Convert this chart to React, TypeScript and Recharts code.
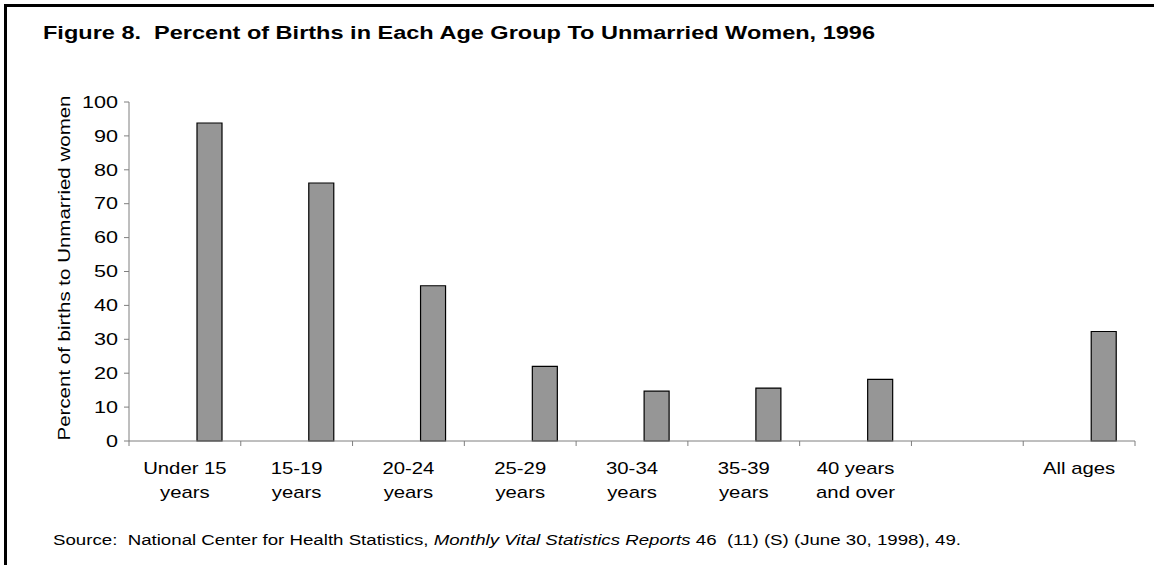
import { BarChart, Bar, XAxis, YAxis } from 'recharts';

// category labels (two lines each), one blank slot before "All ages"
const labelTop = ['Under 15', '15-19', '20-24', '25-29', '30-34', '35-39', '40 years', '', 'All ages'];
const labelBottom = ['years', 'years', 'years', 'years', 'years', 'years', 'and over', '', ''];

// percent of births to unmarried women, 1996
const unmarriedPct = [93.8, 76.1, 45.8, 22.0, 14.7, 15.6, 18.2, null, 32.3];

const yTicks = [0, 10, 20, 30, 40, 50, 60, 70, 80, 90, 100];

const W = 1154;
const H = 565;
const PLOT_LEFT = 129;
const PLOT_RIGHT = 1135;
const BAND = (PLOT_RIGHT - PLOT_LEFT) / labelTop.length;

const FONT = '"Liberation Sans", Arial, sans-serif';
const AXIS_GRAY = '#7f7f7f';

// the original spreadsheet chart had two empty series ahead of this one
const data = labelTop.map((t, i) => ({
  name: `${t} ${labelBottom[i]}`.trim() || `blank${i}`,
  blankA: null,
  blankB: null,
  unmarried: unmarriedPct[i],
}));

function XTick(props: any) {
  const { x, y, index } = props;
  const half = BAND / 2;
  const last = index === labelTop.length - 1;
  return (
    <g>
      <line x1={x - half} x2={x - half} y1={y} y2={y + 5} stroke={AXIS_GRAY} />
      {last && <line x1={x + half} x2={x + half} y1={y} y2={y + 5} stroke={AXIS_GRAY} />}
      <g transform={`translate(${x},${y}) scale(1.27,1)`}>
        <text x={0} y={33} textAnchor="middle" fontSize={16} fontFamily={FONT} fill="#000">
          {labelTop[index]}
        </text>
        <text x={0} y={57} textAnchor="middle" fontSize={16} fontFamily={FONT} fill="#000">
          {labelBottom[index]}
        </text>
      </g>
    </g>
  );
}

function YTick(props: any) {
  const { x, y, payload } = props;
  return (
    <g transform={`translate(${x},${y}) scale(1.35,1)`}>
      <text x={0} y={0} dy="0.36em" textAnchor="end" fontSize={16} fontFamily={FONT} fill="#000">
        {payload.value}
      </text>
    </g>
  );
}

const pre = { whiteSpace: 'pre' as const };

export default function App() {
  return (
    <div style={{ position: 'absolute', left: 0, top: 0, width: W, height: H, background: '#fff' }}>
      <div
        style={{
          position: 'absolute',
          left: 4,
          top: 4,
          width: W,
          height: H,
          borderTop: '3px solid #000',
          borderLeft: '3px solid #000',
        }}
      />
      <div style={{ position: 'absolute', left: 0, top: 0 }}>
        <BarChart
          width={W}
          height={H}
          data={data}
          margin={{ top: 102, right: W - PLOT_RIGHT, bottom: 64, left: 0 }}
          barSize={25}
          barGap={0}
        >
          <XAxis
            dataKey="name"
            height={60}
            interval={0}
            tickSize={0}
            tickMargin={0}
            tickLine={false}
            axisLine={{ stroke: AXIS_GRAY }}
            tick={<XTick />}
          />
          <YAxis
            width={PLOT_LEFT}
            domain={[0, 100]}
            ticks={yTicks}
            interval={0}
            tickSize={5}
            tickMargin={6}
            tickLine={{ stroke: AXIS_GRAY }}
            axisLine={{ stroke: AXIS_GRAY }}
            tick={<YTick />}
          />
          <Bar dataKey="blankA" fill="#fff" isAnimationActive={false} />
          <Bar dataKey="blankB" fill="#fff" isAnimationActive={false} />
          <Bar dataKey="unmarried" fill="#969696" stroke="#000" strokeWidth={1.2} isAnimationActive={false} />
        </BarChart>
      </div>
      <svg
        width={W}
        height={H}
        style={{ position: 'absolute', left: 0, top: 0, pointerEvents: 'none' }}
      >
        <text
          x={43}
          y={39}
          fontSize={17.5}
          fontWeight="bold"
          fontFamily={FONT}
          textLength={832}
          lengthAdjust="spacingAndGlyphs"
          xmlSpace="preserve"
          style={pre}
        >
          Figure 8.  Percent of Births in Each Age Group To Unmarried Women, 1996
        </text>
        <text
          transform="translate(70,268) rotate(-90)"
          textAnchor="middle"
          fontSize={17}
          fontFamily={FONT}
          textLength={345}
          lengthAdjust="spacingAndGlyphs"
        >
          Percent of births to Unmarried women
        </text>
        <text
          x={53}
          y={545}
          fontSize={14}
          fontFamily={FONT}
          textLength={908}
          lengthAdjust="spacingAndGlyphs"
          xmlSpace="preserve"
          style={pre}
        >
          {'Source:  National Center for Health Statistics, '}
          <tspan fontStyle="italic">Monthly Vital Statistics Reports</tspan>
          {' 46  (11) (S) (June 30, 1998), 49.'}
        </text>
      </svg>
    </div>
  );
}
